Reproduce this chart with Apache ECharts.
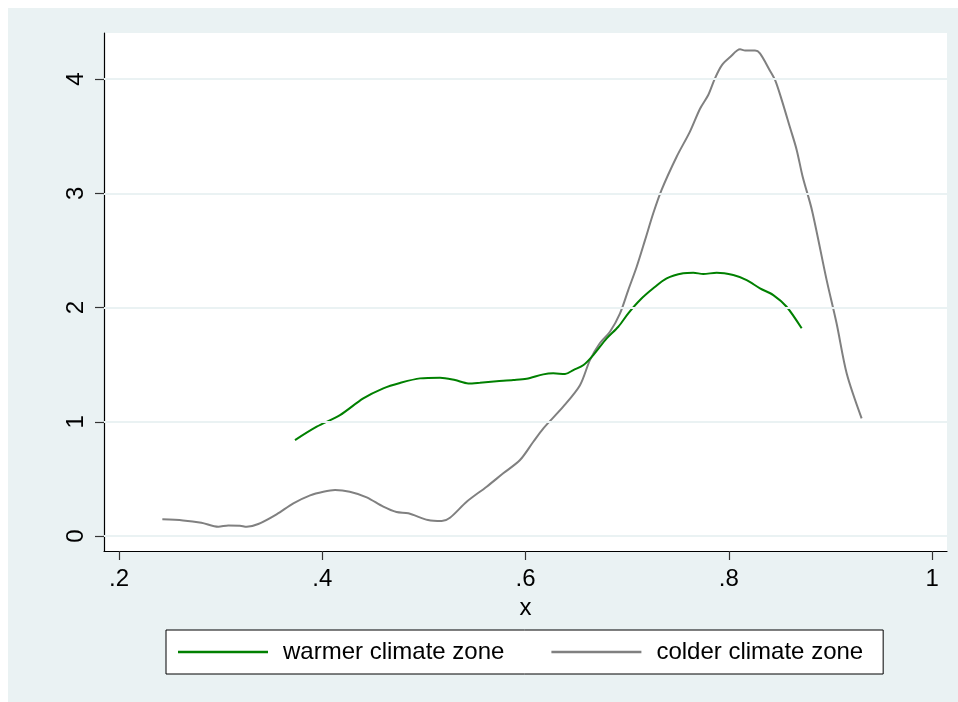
<!DOCTYPE html>
<html>
<head>
<meta charset="utf-8">
<script src="https://cdn.jsdelivr.net/npm/echarts@6/dist/echarts.min.js"></script>
<style>
html,body{margin:0;padding:0;background:#ffffff;}
#bg{position:absolute;left:8px;top:8px;width:950px;height:694px;background:#EAF2F3;}
#main{position:absolute;left:0;top:0;width:958px;height:702px;}
</style>
</head>
<body>
<div id="bg"></div>
<div id="main"></div>
<script>
var xTicks = [0.2, 0.4, 0.6, 0.8, 1];
var xTickLabels = ['.2', '.4', '.6', '.8', '1'];
var yTicks = [0, 1, 2, 3, 4];
var yTickLabels = ['0', '1', '2', '3', '4'];
var seriesNames = ['warmer climate zone', 'colder climate zone'];

var warmerX = [0.3731, 0.3945, 0.4174, 0.4403, 0.4600, 0.4764, 0.4961, 0.5158, 0.5306, 0.5436, 0.5550, 0.5715, 0.5879, 0.6010, 0.6174, 0.6272, 0.6388, 0.6470, 0.6570, 0.6666, 0.6798, 0.6912, 0.7010, 0.7126, 0.7256, 0.7388, 0.7551, 0.7650, 0.7748, 0.7880, 0.8043, 0.8175, 0.8306, 0.8437, 0.8568, 0.8716];
var warmerY = [0.84, 0.957, 1.059, 1.205, 1.293, 1.34, 1.38, 1.386, 1.365, 1.336, 1.342, 1.354, 1.365, 1.377, 1.415, 1.424, 1.418, 1.453, 1.497, 1.584, 1.73, 1.832, 1.949, 2.066, 2.168, 2.255, 2.30, 2.305, 2.293, 2.305, 2.284, 2.24, 2.168, 2.109, 2.007, 1.818];

var colderX = [0.2426, 0.2630, 0.2810, 0.2977, 0.3075, 0.3190, 0.3256, 0.3370, 0.3550, 0.3715, 0.3880, 0.4010, 0.4125, 0.4270, 0.4437, 0.4600, 0.4730, 0.4846, 0.5040, 0.5175, 0.5256, 0.5420, 0.5617, 0.5780, 0.5945, 0.6076, 0.6175, 0.6370, 0.6535, 0.6633, 0.6730, 0.6830, 0.6929, 0.7010, 0.7093, 0.7175, 0.7256, 0.7338, 0.7486, 0.7617, 0.7716, 0.7797, 0.7863, 0.7930, 0.8010, 0.8110, 0.8160, 0.8257, 0.8306, 0.8400, 0.8455, 0.8519, 0.8600, 0.8667, 0.8726, 0.8818, 0.8962, 0.9060, 0.9160, 0.9306];
var colderY = [0.146, 0.137, 0.116, 0.081, 0.093, 0.09, 0.081, 0.105, 0.19, 0.286, 0.356, 0.388, 0.403, 0.388, 0.339, 0.257, 0.21, 0.199, 0.14, 0.131, 0.16, 0.30, 0.432, 0.549, 0.665, 0.825, 0.943, 1.132, 1.32, 1.54, 1.687, 1.788, 1.949, 2.153, 2.357, 2.59, 2.825, 3.03, 3.32, 3.54, 3.74, 3.86, 4.006, 4.12, 4.19, 4.26, 4.25, 4.25, 4.225, 4.08, 3.99, 3.82, 3.58, 3.38, 3.145, 2.85, 2.24, 1.86, 1.42, 1.03];

function pairs(xs, ys) { return xs.map(function (x, i) { return [x, ys[i]]; }); }
function fmt(list, labels) { return function (v) { var i = list.findIndex(function (t) { return Math.abs(t - v) < 1e-9; }); return i >= 0 ? labels[i] : ''; }; }

var FONT = '"Liberation Sans", Arial, sans-serif';
var FS = 24;
var chart = echarts.init(document.getElementById('main'), null, {renderer: 'canvas'});
chart.setOption({
  backgroundColor: 'transparent',
  animation: false,
  grid: {left: 104, top: 33, right: 11, bottom: 151, show: true, backgroundColor: '#ffffff', borderWidth: 0, containLabel: false},
  xAxis: {
    type: 'value', min: 0.1852, max: 1.0146,
    name: 'x', nameLocation: 'middle', nameGap: 37,
    nameTextStyle: {fontFamily: FONT, fontSize: FS, color: '#000'},
    axisLine: {onZero: false, lineStyle: {color: '#000', width: 1.2}},
    axisTick: {show: true, length: 9, customValues: xTicks, lineStyle: {color: '#333', width: 1.2}},
    axisLabel: {customValues: xTicks, formatter: fmt(xTicks, xTickLabels), margin: 16, fontFamily: FONT, fontSize: FS, color: '#000'},
    splitLine: {show: false}
  },
  yAxis: {
    type: 'value', min: -0.131, max: 4.403,
    axisLine: {show: true, onZero: false, lineStyle: {color: '#000', width: 1.2}},
    axisTick: {show: true, length: 9, customValues: yTicks, lineStyle: {color: '#333', width: 1.2}},
    axisLabel: {customValues: yTicks, formatter: fmt(yTicks, yTickLabels), rotate: 90, margin: 16, fontFamily: FONT, fontSize: FS, color: '#000'},
    splitLine: {show: false}
  },
  legend: {
    left: 166, top: 630,
    orient: 'horizontal',
    backgroundColor: '#ffffff', borderColor: '#000', borderWidth: 1, borderRadius: 0,
    padding: [10, 20, 10, 12],
    icon: 'rect',
    itemWidth: 90, itemHeight: 2.5, itemGap: 47,
    textStyle: {fontFamily: FONT, fontSize: FS, color: '#000', padding: [0, 0, 0, 10]},
    data: seriesNames
  },
  series: [
    {
      name: seriesNames[0], type: 'line', data: pairs(warmerX, warmerY),
      symbol: 'none', smooth: 0.3, lineStyle: {color: '#008000', width: 2}, itemStyle: {color: '#008000'}, z: 3,
      markLine: {
        silent: true, symbol: 'none', label: {show: false}, animation: false,
        lineStyle: {color: '#EAF2F3', width: 2, type: 'solid'},
        data: yTicks.map(function (v) { return {yAxis: v}; })
      }
    },
    {
      name: seriesNames[1], type: 'line', data: pairs(colderX, colderY),
      symbol: 'none', smooth: 0.3, lineStyle: {color: '#808080', width: 2}, itemStyle: {color: '#808080'}, z: 2
    }
  ]
});
</script>
</body>
</html>
